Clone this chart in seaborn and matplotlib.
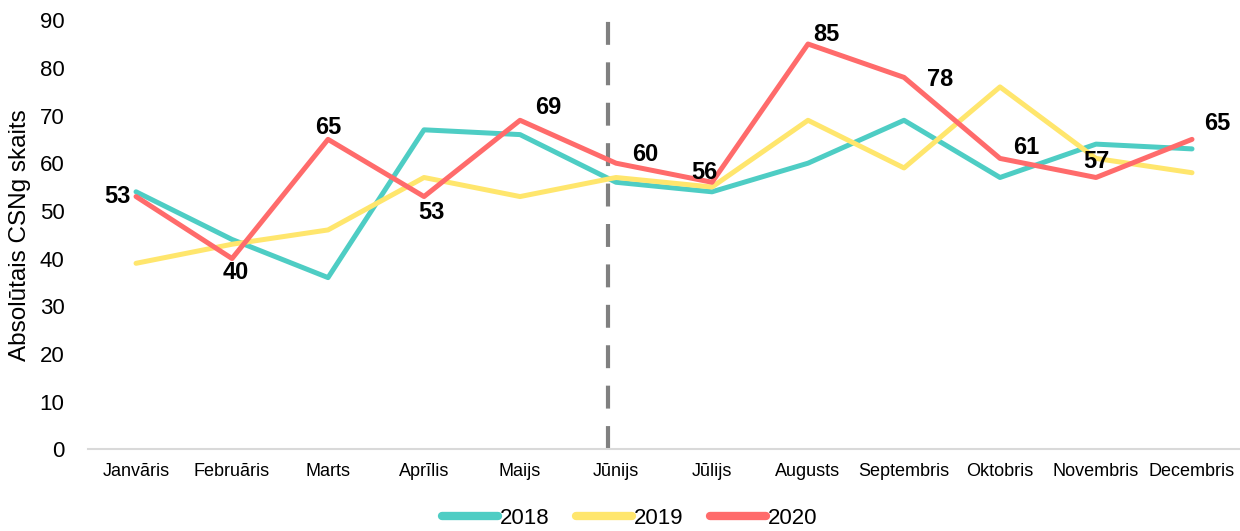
import numpy as np
import pandas as pd
import matplotlib
matplotlib.use('Agg')
import matplotlib.pyplot as plt
import seaborn as sns

# 月份和数据
months = ['Janvāris', 'Februāris', 'Marts', 'Aprīlis', 'Maijs', 'Jūnijs',
          'Jūlijs', 'Augusts', 'Septembris', 'Oktobris', 'Novembris', 'Decembris']
vals_2018 = [54, 44, 36, 67, 66, 56, 54, 60, 69, 57, 64, 63]
vals_2019 = [39, 43, 46, 57, 53, 57, 55, 69, 59, 76, 61, 58]
vals_2020 = [53, 40, 65, 53, 69, 60, 56, 85, 78, 61, 57, 65]
years = ['2018', '2019', '2020']
colors = ['#4ECDC4', '#FFE66D', '#FF6B6B']

# 2020 标签偏移 (像素)
label_offsets = [(-19, 0), (4, -14), (0, 12), (7, -16), (28, 13), (29, 9),
                 (-8, 10), (18, 10), (36, -2), (26, 11), (0, 16), (25, 16)]

df = pd.DataFrame({
    'month': months * 3,
    'x': list(range(12)) * 3,
    'value': vals_2018 + vals_2019 + vals_2020,
    'year': [y for y in years for _ in range(12)],
})

sns.set_style('white')
plt.rcParams['font.family'] = ['Liberation Sans', 'DejaVu Sans']
plt.rcParams['text.color'] = 'black'
plt.rcParams['xtick.color'] = 'black'
plt.rcParams['ytick.color'] = 'black'
plt.rcParams['axes.labelcolor'] = 'black'

fig = plt.figure(figsize=(12.4, 5.31), dpi=100)
ax = fig.add_axes([0.071, 0.154, 0.929, 0.808])

sns.lineplot(data=df, x='x', y='value', hue='year', palette=colors,
             linewidth=3.6, ax=ax, sort=False)

ax.axvline(4.92, color='#808080', linestyle=(0, (5.5, 4.2)), linewidth=3,
           ymin=0, ymax=1.0, zorder=0)

for i, v in enumerate(vals_2020):
    dx, dy = label_offsets[i]
    ax.annotate(str(v), (i, v), xytext=(dx, dy), textcoords='offset pixels',
                ha='center', va='center', fontsize=17, fontweight='bold', color='black')

ax.set_xlim(-0.5, 11.5)
ax.set_ylim(0, 90)
ax.set_yticks(range(0, 91, 10))
ax.set_xticks(range(12))
ax.set_xticklabels(months, fontsize=13)
ax.tick_params(axis='y', labelsize=16, length=0, pad=17)
ax.tick_params(axis='x', length=0, pad=10)
ax.set_xlabel('')
ax.set_ylabel('Absolūtais CSNg skaits', fontsize=17.5, labelpad=6)

for s in ['top', 'right', 'left']:
    ax.spines[s].set_visible(False)
ax.spines['bottom'].set_color('#D9D9D9')
ax.spines['bottom'].set_linewidth(1.5)

ax.legend(loc='center', bbox_to_anchor=(0.508, 0.024), bbox_transform=fig.transFigure,
          ncol=3, frameon=False, fontsize=16, handlelength=2.5,
          handletextpad=0.1, columnspacing=1.2)
for line in ax.get_legend().get_lines():
    line.set_linewidth(6)
    line.set_solid_capstyle('round')

fig.savefig('out.png', dpi=100)
